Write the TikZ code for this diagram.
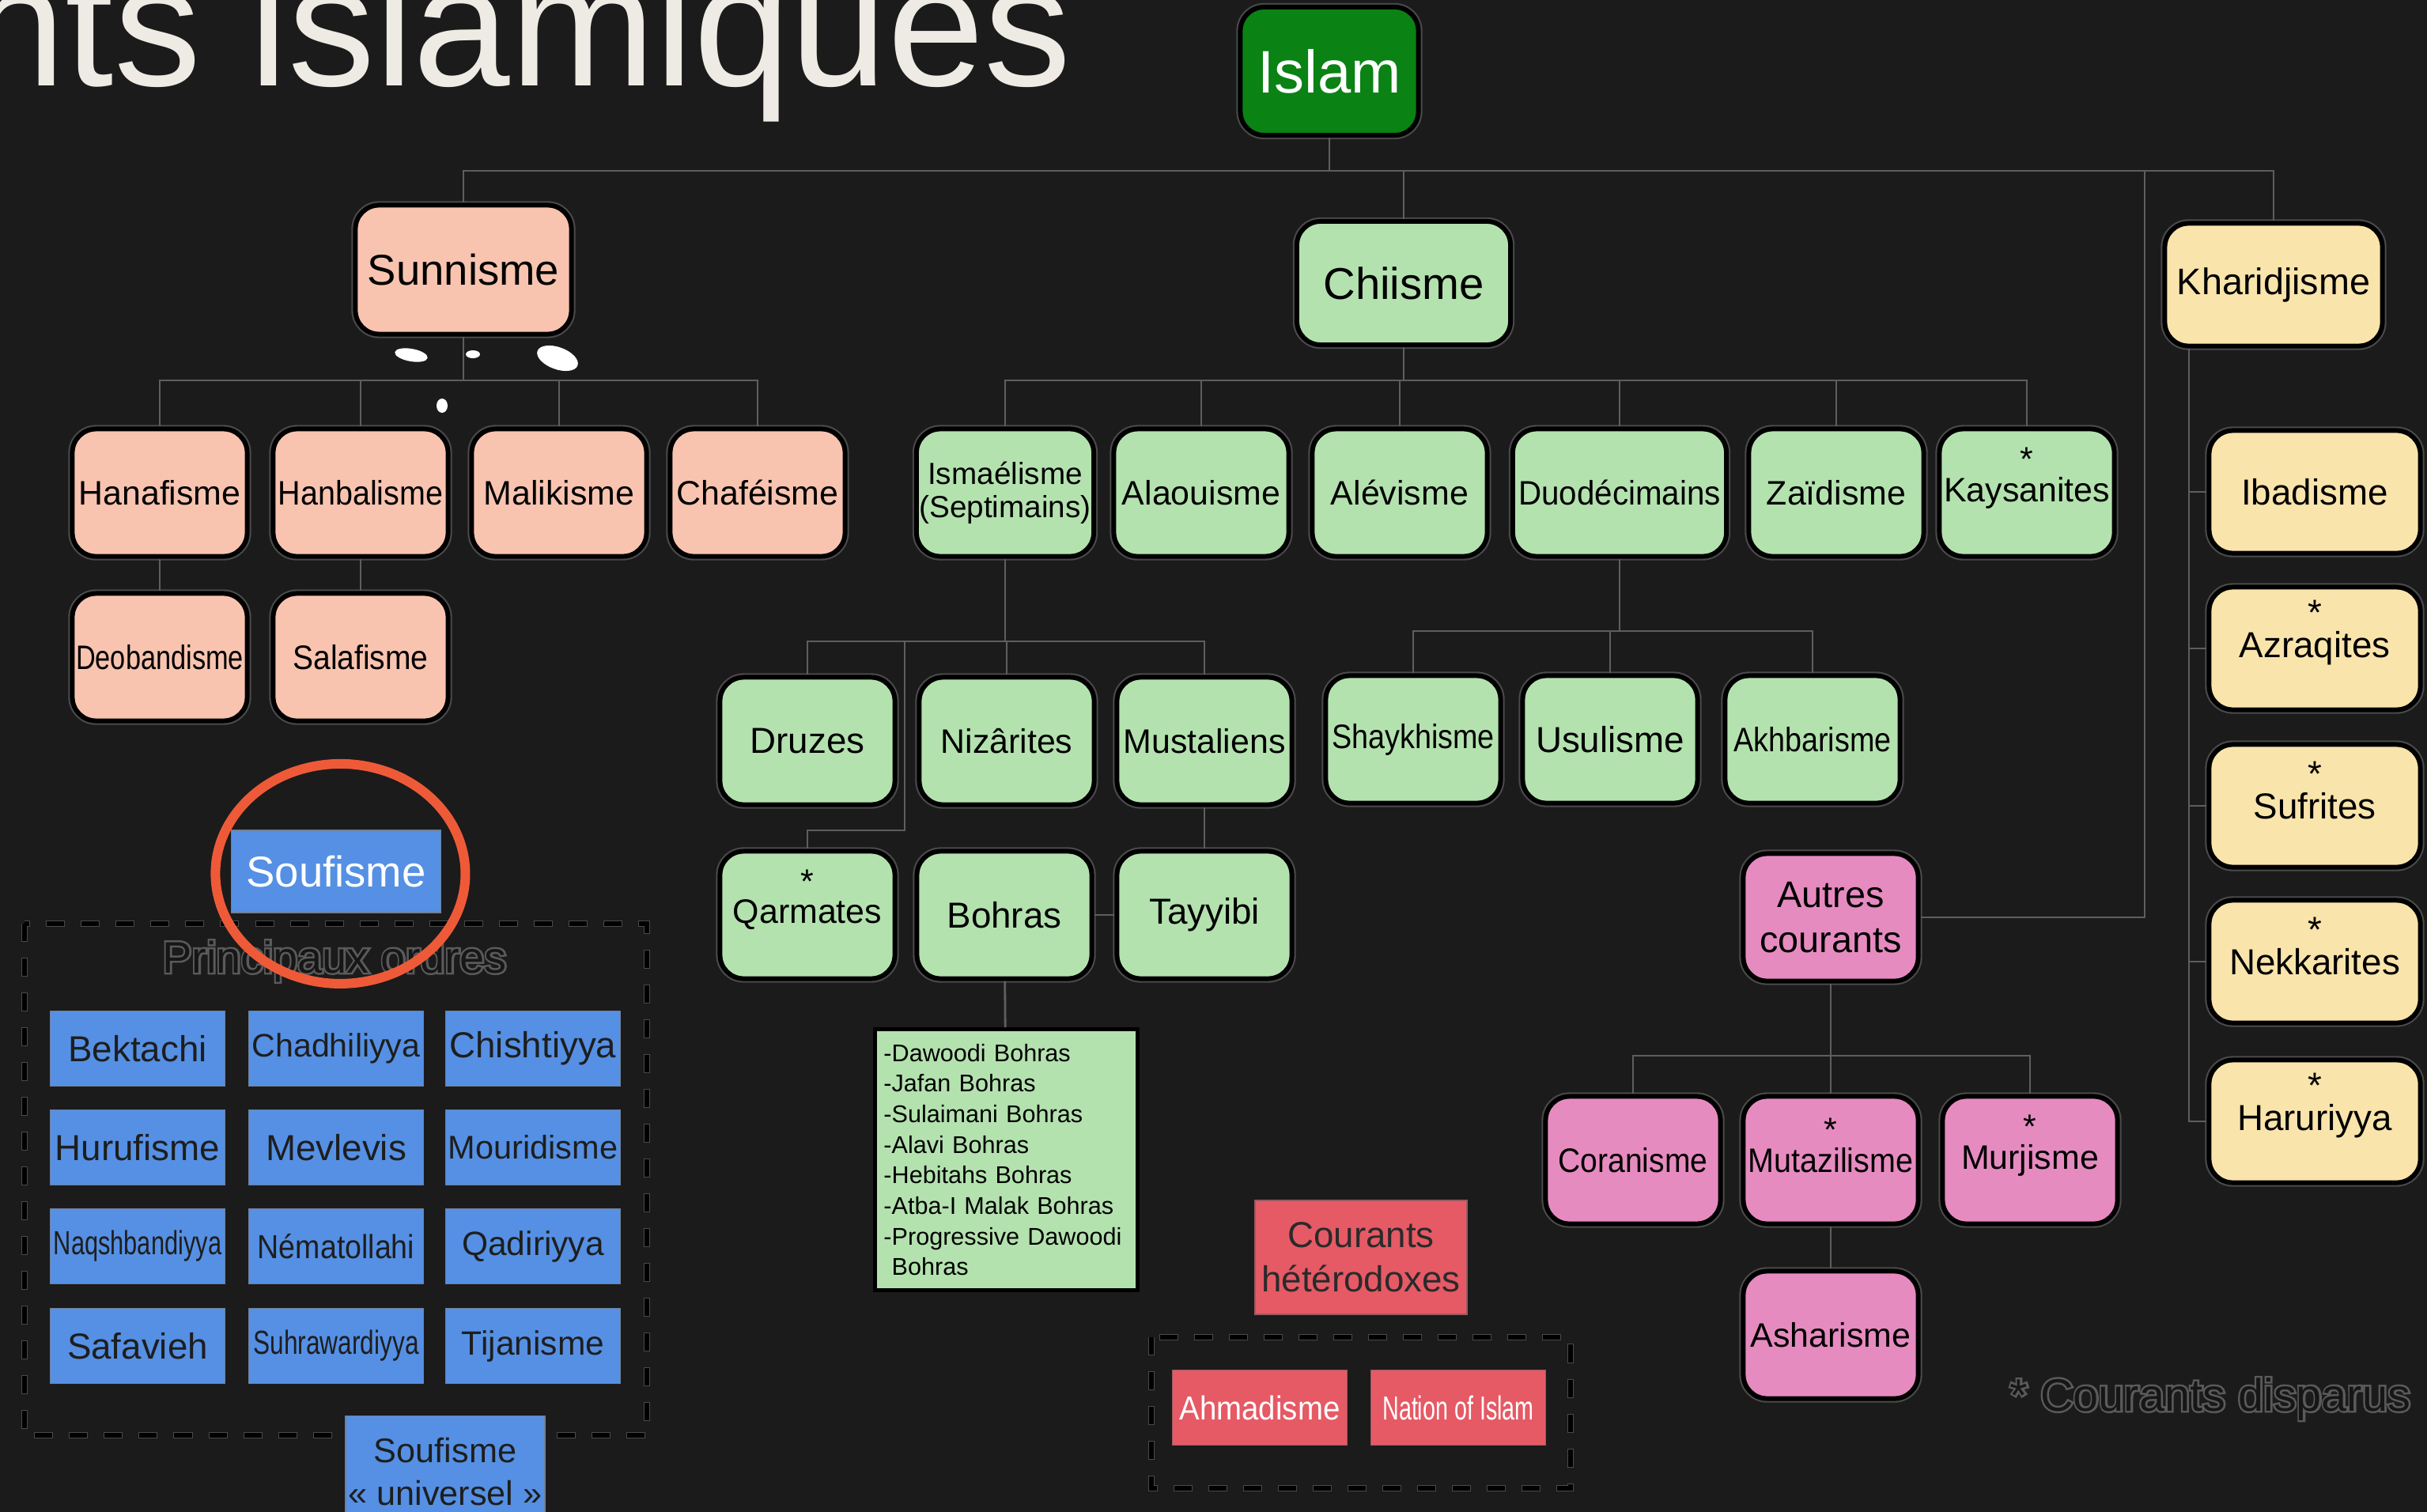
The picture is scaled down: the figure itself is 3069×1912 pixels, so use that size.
\documentclass[tikz,border=0pt]{standalone}
\usepackage{fontspec}
\setmainfont{Liberation Sans}

\definecolor{bgdark}{HTML}{1B1B1B}
\definecolor{titlecream}{HTML}{EDEBE3}
\definecolor{linkgray}{HTML}{5E5E5E}
\definecolor{halo}{HTML}{4A4A4A}
\definecolor{islamgreen}{HTML}{0A8214}
\definecolor{sunnifill}{HTML}{F8C4B0}
\definecolor{chiifill}{HTML}{B4E2AF}
\definecolor{kharijfill}{HTML}{F9E4AB}
\definecolor{autrefill}{HTML}{E68BC0}
\definecolor{soufiblue}{HTML}{5590E4}
\definecolor{soufiedge}{HTML}{6F7F99}
\definecolor{ordertext}{HTML}{1E1E1E}
\definecolor{heterored}{HTML}{E55A65}
\definecolor{heteroedge}{HTML}{9A5A60}
\definecolor{heterotext}{HTML}{2A2A2A}
\definecolor{circlered}{HTML}{EE5A38}
\definecolor{ghostfill}{HTML}{161616}
\definecolor{ghostline}{HTML}{5A5A5A}

\newcommand{\condensed}[2]{\scalebox{#1}[1]{#2}}
\newcommand{\disparu}[1]{\setbox0\hbox{#1}\rlap{\makebox[\wd0]{\smash{\raisebox{0.9em}{*}}}}\box0}
\newcommand{\ghostword}[1]{\rlap{\color{ghostline}\special{pdf:literal direct 1.4 w 2 Tr}#1\special{pdf:literal direct 0 Tr}}#1}

\begin{document}
\begin{tikzpicture}[x=0.01cm,y=0.01cm,yscale=-1,
  branch/.style={rectangle, rounded corners=0.3cm, draw=black, line width=1.7pt,
    preaction={draw=halo, line width=2.9pt}, minimum width=2.21cm, minimum height=1.61cm,
    inner sep=1pt, align=center, text=black, font=\fontsize{12.2}{14}\selectfont},
  sunni/.style={branch, fill=sunnifill},
  chii/.style={branch, fill=chiifill},
  kharij/.style={branch, fill=kharijfill, minimum width=2.67cm, minimum height=1.55cm,
    font=\fontsize{13}{15}\selectfont},
  autre/.style={branch, fill=autrefill},
  size13/.style={font=\fontsize{13}{15}\selectfont},
  order/.style={rectangle, fill=soufiblue, draw=soufiedge, line width=0.4pt,
    minimum width=2.21cm, minimum height=0.95cm, inner sep=1pt, align=center,
    text=ordertext, font=\fontsize{13}{15}\selectfont},
  hetero/.style={rectangle, fill=heterored, draw=heteroedge, line width=0.4pt,
    minimum width=2.21cm, minimum height=0.95cm, inner sep=1pt, align=center,
    text=white, font=\fontsize{12}{14}\selectfont},
  link/.style={draw=linkgray, line width=0.8pt},
  dashframe/.style={draw=black, line width=0.06cm, dash pattern=on 0.22cm off 0.22cm,
    preaction={draw=halo, line width=0.085cm, dash pattern=on 0.24cm off 0.2cm, dash phase=0.01cm}},
  ghosttext/.style={inner sep=0pt, text=ghostfill},
  ring/.style={draw=circlered, line width=0.12cm, line cap=round},
]
\useasboundingbox (0,0) rectangle (3069,1912);
\fill[bgdark] (0,0) rectangle (3069,1912);

% Title
\node[anchor=base east, inner sep=0pt, text=titlecream, font=\fontsize{62.6}{70}\selectfont] (title) at (1356,108) {nts islamiques};

% Root
\node[branch, fill=islamgreen, text=white, minimum width=2.25cm, minimum height=1.62cm,
  font=\fontsize{21.6}{24}\selectfont] (islam) at (1681,90) {Islam};

% Sunnisme
\node[sunni, minimum width=2.73cm, minimum height=1.63cm, font=\fontsize{15.5}{17}\selectfont] (sunni) at (586,341) {Sunnisme};
\node[sunni] (hanafi) at (202,623) {Hanafisme};
\node[sunni] (hanbali) at (456,623) {\condensed{0.92}{Hanbalisme}};
\node[sunni] (maliki) at (707,623) {Malikisme};
\node[sunni] (chafei) at (958,623) {Chaféisme};
\node[sunni] (deoband) at (202,831) {\condensed{0.8}{Deobandisme}};
\node[sunni] (salafi) at (456,831) {\condensed{0.91}{Salafisme}};

% Chiisme
\node[chii, minimum width=2.70cm, minimum height=1.56cm, font=\fontsize{16}{18}\selectfont] (chiisme) at (1775,358) {Chiisme};
\node[chii, font=\fontsize{11}{12}\selectfont] (ismael) at (1271,623) {Ismaélisme\\(Septimains)};
\node[chii] (alaoui) at (1519,623) {Alaouisme};
\node[chii] (alevi) at (1770,623) {Alévisme};
\node[chii, minimum width=2.70cm] (duodeci) at (2048,623) {\condensed{0.94}{Duodécimains}};
\node[chii] (zaidi) at (2322,623) {Zaïdisme};
\node[chii] (kaysan) at (2563,623) {\disparu{Kaysanites}};
\node[chii, size13] (druzes) at (1021,937) {Druzes};
\node[chii] (nizar) at (1273,937) {Nizârites};
\node[chii] (musta) at (1523,937) {Mustaliens};
\node[chii] (shaykh) at (1787,935) {\condensed{0.88}{Shaykhisme}};
\node[chii, size13] (usuli) at (2036,935) {Usulisme};
\node[chii] (akhbari) at (2292,935) {\condensed{0.88}{Akhbarisme}};
\node[chii] (qarmates) at (1021,1157) {\disparu{Qarmates}};
\node[chii, size13] (bohras) at (1270,1157) {Bohras};
\node[chii, size13] (tayyibi) at (1523,1157) {Tayyibi};
\node[rectangle, draw=black, line width=1.4pt, fill=chiifill, anchor=north west,
  minimum width=3.32cm, minimum height=3.30cm, text width=3.1cm, align=left,
  inner sep=0.11cm, font=\fontsize{8.7}{11}\selectfont] (bohraslist) at (1104,1299)
  {-Dawoodi Bohras\\-Jafan Bohras\\-Sulaimani Bohras\\-Alavi Bohras\\-Hebitahs Bohras\\-Atba-I Malak Bohras\\-Progressive Dawoodi\\\phantom{-}Bohras};

% Kharidjisme
\node[kharij, minimum width=2.75cm, font=\fontsize{13.3}{15}\selectfont] (kharidj) at (2875,360) {Kharidjisme};
\node[kharij] (ibadi) at (2927,622) {Ibadisme};
\node[kharij] (azraq) at (2927,820) {\disparu{Azraqites}};
\node[kharij] (sufri) at (2927,1019) {\disparu{Sufrites}};
\node[kharij] (nekkar) at (2927,1216) {\disparu{Nekkarites}};
\node[kharij] (haruri) at (2927,1418) {\disparu{Haruriyya}};

% Autres courants
\node[autre, font=\fontsize{13.3}{16}\selectfont] (autres) at (2315,1160) {Autres\\courants};
\node[autre] (coran) at (2065,1467) {\condensed{0.91}{Coranisme}};
\node[autre] (mutazil) at (2315,1467) {\disparu{\condensed{0.92}{Mutazilisme}}};
\node[autre] (murji) at (2567,1467) {\disparu{Murjisme}};
\node[autre] (ashari) at (2315,1688) {Asharisme};

%Connectors
\coordinate (ib) at (islam.south |- 0,216);
\coordinate (kr) at (2712,216);
\draw[link] (islam) -- (ib);
\draw[link] (ib) -| (sunni.north);
\draw[link] (ib) -| (chiisme.north);
\draw[link] (ib) -| (kharidj.north);
\draw[link] (kr) |- (autres.east);

\coordinate (sb) at (sunni.south |- 0,481);
\draw[link] (sunni) -- (sb);
\draw[link] (sb) -| (hanafi.north);
\draw[link] (sb) -| (hanbali.north);
\draw[link] (sb) -| (maliki.north);
\draw[link] (sb) -| (chafei.north);
\draw[link] (hanafi) -- (deoband);
\draw[link] (hanbali) -- (salafi);

\coordinate (cb) at (chiisme.south |- 0,481);
\draw[link] (chiisme) -- (cb);
\draw[link] (cb) -| (ismael.north);
\draw[link] (cb) -| (alaoui.north);
\draw[link] (cb) -| (alevi.north);
\draw[link] (cb) -| (duodeci.north);
\draw[link] (cb) -| (zaidi.north);
\draw[link] (cb) -| (kaysan.north);

\coordinate (isb) at (ismael.south |- 0,811);
\coordinate (qa) at (1144,811);
\coordinate (qb) at (1144,1050);
\draw[link] (ismael) -- (isb);
\draw[link] (isb) -| (druzes.north);
\draw[link] (isb) -| (nizar.north);
\draw[link] (isb) -| (musta.north);
\draw[link] (qa) -- (qb) -| (qarmates.north);
\draw[link] (musta) -- (tayyibi);
\draw[link] (bohras) -- (tayyibi);
\draw[link] (bohras) -- (bohraslist);

\coordinate (db) at (duodeci.south |- 0,798);
\draw[link] (duodeci) -- (db);
\draw[link] (db) -| (shaykh.north);
\draw[link] (db) -| (usuli.north);
\draw[link] (db) -| (akhbari.north);

\coordinate (kt) at ([xshift=-1.07cm]kharidj.south);
\draw[link] (kt) |- (ibadi.west);
\draw[link] (kt) |- (azraq.west);
\draw[link] (kt) |- (sufri.west);
\draw[link] (kt) |- (nekkar.west);
\draw[link] (kt) |- (haruri.west);

\coordinate (ab) at (autres.south |- 0,1335);
\draw[link] (autres) -- (ab);
\draw[link] (ab) -| (coran.north);
\draw[link] (ab) -| (mutazil.north);
\draw[link] (ab) -| (murji.north);
\draw[link] (mutazil) -- (ashari);

% Smudges under Sunnisme
\fill[white, rotate around={10:(520,449)}] (520,449) ellipse [x radius=21, y radius=8];
\fill[white] (598,448) ellipse [x radius=9, y radius=5];
\fill[white, rotate around={20:(705,453)}] (705,453) ellipse [x radius=27, y radius=14];
\fill[white] (559,513) ellipse [x radius=7, y radius=9];

% Soufisme
\draw[dashframe] (31,1168) rectangle (818,1815);
\node[order, minimum width=2.65cm, minimum height=1.04cm, text=white,
  font=\fontsize{15.5}{17}\selectfont] (soufisme) at (425,1102) {Soufisme};
\node[ghosttext, anchor=base, font=\fontsize{15.9}{18}\selectfont] (ordres) at (423,1230) {\ghostword{Principaux ordres}};
\node[order] (bektachi) at (174,1326) {Bektachi};
\node[order, font=\fontsize{11.7}{14}\selectfont] (chadhili) at (425,1326) {Chadhiliyya};
\node[order] (chishti) at (674,1326) {Chishtiyya};
\node[order] (hurufi) at (174,1451) {Hurufisme};
\node[order] (mevlevi) at (425,1451) {Mevlevis};
\node[order, font=\fontsize{11.8}{14}\selectfont] (mouridi) at (674,1451) {Mouridisme};
\node[order, font=\fontsize{12}{14}\selectfont] (naqsh) at (174,1576) {\condensed{0.73}{Naqshbandiyya}};
\node[order, font=\fontsize{12}{14}\selectfont] (nemat) at (425,1576) {\condensed{0.89}{Nématollahi}};
\node[order, font=\fontsize{12.1}{14}\selectfont] (qadiri) at (674,1576) {Qadiriyya};
\node[order] (safavi) at (174,1702) {Safavieh};
\node[order, font=\fontsize{12}{14}\selectfont] (suhra) at (425,1702) {\condensed{0.75}{Suhrawardiyya}};
\node[order, font=\fontsize{12.1}{14}\selectfont] (tijani) at (674,1702) {Tijanisme};
\node[order, anchor=north, minimum width=2.48cm, minimum height=1.40cm,
  font=\fontsize{12.3}{15.4}\selectfont] (universel) at (563,1790) {Soufisme\\« universel »};
\draw[ring] (403,968) arc [start angle=-100, end angle=295, x radius=158, y radius=139];

% Courants heterodoxes
\node[hetero, minimum width=2.68cm, minimum height=1.44cm, text=heterotext,
  font=\fontsize{13}{16}\selectfont] (hetero) at (1721,1590) {Courants\\hétérodoxes};
\draw[dashframe] (1456,1691) rectangle (1986,1882);
\node[hetero] (ahmadi) at (1593,1780) {\condensed{0.91}{Ahmadisme}};
\node[hetero] (nation) at (1844,1780) {\condensed{0.68}{Nation of Islam}};

% Legend
\node[ghosttext, anchor=base west, font=\fontsize{16.4}{18}\selectfont] (disparus) at (2541,1784) {\ghostword{* Courants disparus}};
\end{tikzpicture}
\end{document}
